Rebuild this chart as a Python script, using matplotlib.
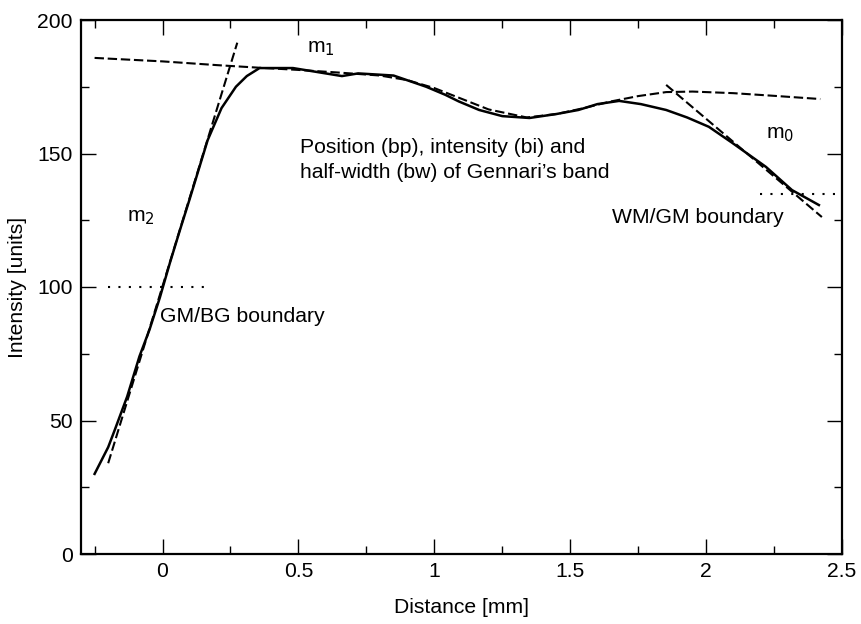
import numpy as np
import matplotlib
matplotlib.use("Agg")
import matplotlib.pyplot as plt
from matplotlib.ticker import MultipleLocator

plt.rcParams['font.family'] = ['Liberation Sans', 'DejaVu Sans']

# measured intensity profile (solid)
prof_x = [-0.25, -0.20, -0.176, -0.13, -0.085, -0.048, -0.01, 0.027, 0.063, 0.10,
          0.13, 0.166, 0.217, 0.27, 0.31, 0.357, 0.48, 0.60, 0.66, 0.72, 0.85,
          0.97, 1.04, 1.09, 1.165, 1.25, 1.35, 1.45, 1.53, 1.60, 1.68, 1.76,
          1.853, 1.93, 2.01, 2.096, 2.22, 2.316, 2.415]
prof_y = [30, 40, 46.4, 59, 74, 84, 96, 109, 121, 133,
          143, 155, 167, 175, 179, 182, 182, 180, 179, 180, 179.2,
          175, 172, 169.5, 166.3, 164, 163.3, 164.8, 166.3, 168.5, 169.7, 168.5,
          166.3, 163.5, 160, 154, 145, 136.3, 130.7]

# fitted model (dashed)
fit_x = [-0.25, 0.0, 0.2, 0.36, 0.5, 0.65, 0.8, 0.9, 1.0, 1.1, 1.2, 1.34,
         1.45, 1.55, 1.65, 1.75, 1.853, 1.95, 2.1, 2.25, 2.42]
fit_y = [185.8, 184.5, 183.1, 182.1, 181.3, 180.3, 179.2, 177.5, 174.5, 170.5,
         166.5, 163.5, 164.8, 167, 169.5, 171.5, 173, 173.2, 172.6, 171.6, 170.4]

# slope lines m2 and m0
m2_x = [-0.2, 0.275]
m2_y = [34, 191.5]
m0_x = [1.853, 2.426]
m0_y = [175.7, 126.2]

# boundary levels (dotted)
gm_bg_x = [-0.2, 0.18]
gm_bg_y = [100, 100]
wm_gm_x = [2.2, 2.48]
wm_gm_y = [135, 135]

fig = plt.figure(figsize=(8.61, 6.24), dpi=100)
ax = fig.add_axes([81/861, 1 - 554/624, (842 - 81)/861, (554 - 20)/624])

dash = (0, (4.5, 1.8))
ax.plot(prof_x, prof_y, color='black', lw=1.8)
ax.plot(fit_x, fit_y, color='black', lw=1.5, linestyle=dash)
ax.plot(m2_x, m2_y, color='black', lw=1.5, linestyle=dash)
ax.plot(m0_x, m0_y, color='black', lw=1.5, linestyle=dash)
ax.plot(gm_bg_x, gm_bg_y, color='black', lw=1.5, linestyle=(0, (1, 4)))
ax.plot(wm_gm_x, wm_gm_y, color='black', lw=1.5, linestyle=(0, (1, 4)))

fs = 15.2
ax.text(0.53, 188, r'm$_1$', fontsize=fs, ha='left', va='baseline')
ax.text(2.22, 155.8, r'm$_0$', fontsize=fs, ha='left', va='baseline')
ax.text(-0.129, 124.4, r'm$_2$', fontsize=fs, ha='left', va='baseline')
ax.text(0.504, 152.4, 'Position (bp), intensity (bi) and', fontsize=fs,
        ha='left', va='center')
ax.text(0.504, 142.7, 'half-width (bw) of Gennari\u2019s band', fontsize=fs,
        ha='left', va='center')
ax.text(-0.011, 88.8, 'GM/BG boundary', fontsize=fs, ha='left', va='center')
ax.text(1.654, 126.2, 'WM/GM boundary', fontsize=fs, ha='left', va='center')

ax.set_xlim(-0.30, 2.5)
ax.set_ylim(0, 200)
ax.xaxis.set_major_locator(MultipleLocator(0.5))
ax.xaxis.set_minor_locator(MultipleLocator(0.25))
ax.yaxis.set_major_locator(MultipleLocator(50))
ax.yaxis.set_minor_locator(MultipleLocator(25))
ax.set_xticks([0, 0.5, 1, 1.5, 2, 2.5])
ax.set_xticklabels(['0', '0.5', '1', '1.5', '2', '2.5'])
ax.tick_params(which='both', direction='in', top=True, right=True,
               labelsize=fs, width=1.0, colors='black')
ax.tick_params(which='major', length=11, pad=6)
ax.tick_params(which='minor', length=5.5)
for s in ax.spines.values():
    s.set_linewidth(1.6)

ax.set_xlabel('Distance [mm]', fontsize=fs, labelpad=12)
ax.set_ylabel('Intensity [units]', fontsize=fs, labelpad=7)

fig.savefig('out.png', dpi=100)
